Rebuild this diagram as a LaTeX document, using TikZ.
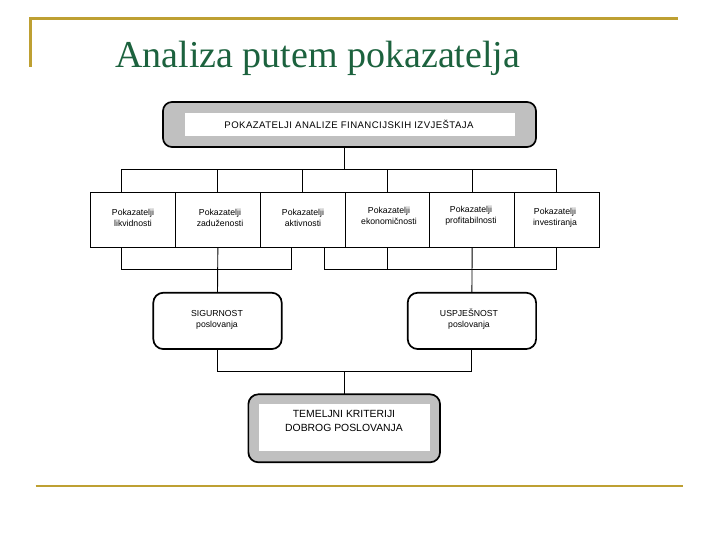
\documentclass[tikz,border=0pt]{standalone}
\usepackage{fontspec}
\setmainfont{Liberation Serif}
\newfontfamily\arial{Liberation Sans}
\newfontfamily\arialsp[LetterSpace=4.5]{Liberation Sans}
\definecolor{gold}{RGB}{190,160,50}
\definecolor{titlegreen}{RGB}{28,98,62}
\definecolor{boxgray}{RGB}{192,192,192}
\begin{document}
\begin{tikzpicture}[x=1pt,y=-1pt,
  thin line/.style={line width=0.9pt},
  smallbox/.style={draw,thin line,minimum width=84.77pt,minimum height=55.5pt,inner sep=0pt,outer sep=0pt},
  smalltext/.style={font=\arial\fontsize{8.7}{11}\selectfont,align=center,inner sep=0pt},
  roundbox/.style={draw,line width=1.7pt,rounded corners=9pt,inner sep=0pt,outer sep=0pt},
  innerwhite/.style={fill=white,inner sep=0pt,outer sep=0pt},
  goldline/.style={draw=gold,line width=2.8pt}
]
\useasboundingbox (0,0) rectangle (720,540);
% decorative gold lines
\draw[goldline,line cap=butt,line join=miter] (30.3,66.7) -- (30.3,18.8) -- (677.7,18.8);
\draw[goldline,line cap=butt] (35.7,486) -- (683.3,486);
% title
\node[anchor=base west,inner sep=0pt,text=titlegreen,font=\fontsize{38}{41}\selectfont] (title) at (115,67.3) {Analiza putem pokazatelja};

% top box
\node[roundbox,fill=boxgray,minimum width=373pt,minimum height=45pt] (tb) at (349.5,124.5) {};
\node[innerwhite,minimum width=330pt,minimum height=23pt] (tbi) at (350,124.5) {};
\node[smalltext,font=\arialsp\fontsize{9.6}{12}\selectfont] (tbt) at (349,124.5) {POKAZATELJI ANALIZE FINANCIJSKIH IZVJEŠTAJA};

% six boxes
\node[smallbox] (b1) at (133.08,220) {};
\node[smallbox] (b2) at (217.85,220) {};
\node[smallbox] (b3) at (302.62,220) {};
\node[smallbox] (b4) at (387.39,220) {};
\node[smallbox] (b5) at (472.16,220) {};
\node[smallbox] (b6) at (556.93,220) {};
\node[smalltext] (t1) at (133,218) {Pokazatelji\\likvidnosti};
\node[smalltext] (t2) at (220,218) {Pokazatelji\\zaduženosti};
\node[smalltext] (t3) at (303,218) {Pokazatelji\\aktivnosti};
\node[smalltext] (t4) at (389,216) {Pokazatelji\\ekonomičnosti};
\node[smalltext] (t5) at (471,216) {Pokazatelji\\profitabilnosti};
\node[smalltext] (t6) at (555,218) {Pokazatelji\\investiranja};

% middle rounded boxes
\node[roundbox,fill=white,rounded corners=10pt,minimum width=128.4pt,minimum height=56.3pt] (sig) at (217.5,320.9) {};
\node[smalltext] (sigt) at (217,319.5) {SIGURNOST\\poslovanja};
\node[roundbox,fill=white,rounded corners=10pt,minimum width=128.4pt,minimum height=56.3pt] (usp) at (471.9,320.9) {};
\node[smalltext] (uspt) at (469,319.5) {USPJEŠNOST\\poslovanja};

% bottom box
\node[roundbox,fill=boxgray,rounded corners=10pt,minimum width=191.7pt,minimum height=68pt] (fin) at (344.2,428.3) {};
\node[innerwhite,minimum width=170.7pt,minimum height=46.4pt] (fini) at (344.7,427.5) {};
\node[smalltext,font=\arial\fontsize{10.4}{13.5}\selectfont] (fint) at (344,421) {TEMELJNI KRITERIJI\\DOBROG POSLOVANJA};

% top bus
\coordinate (busT) at (344.3,169.5);
\coordinate (tl) at (121.7,169.5);
\coordinate (tr) at (b6.north |- busT);
\draw[thin line] (busT |- tb.south) -- (busT);
\draw[thin line] (tl) -- (tr);
\draw[thin line] (tl) -- (tl |- b1.north);
\foreach \i in {2,...,6}{\draw[thin line] (b\i.north) -- (b\i.north |- busT);}

% lower left bracket
\coordinate (ll) at (121.7,269.3);
\coordinate (lr) at (291.7,269.3);
\draw[thin line] (ll |- b1.south) -- (ll) -- (lr) -- (lr |- b3.south);
\draw[thin line] (b2.south) -- (sig.north);
% lower right bracket
\coordinate (rl) at (324.3,269.3);
\coordinate (rr) at (b6.south |- rl);
\draw[thin line] (rl |- b3.south) -- (rl) -- (rr) -- (b6.south);
\draw[thin line] (b4.south) -- (b4.south |- rl);
\draw[thin line] (b5.south) -- (usp.north);

% bottom bus
\coordinate (busB) at (fin.north |- 0,371.7);
\draw[thin line] (sig.south) |- (busB) -| (usp.south);
\draw[thin line] (busB) -- (fin.north);
\end{tikzpicture}
\end{document}
